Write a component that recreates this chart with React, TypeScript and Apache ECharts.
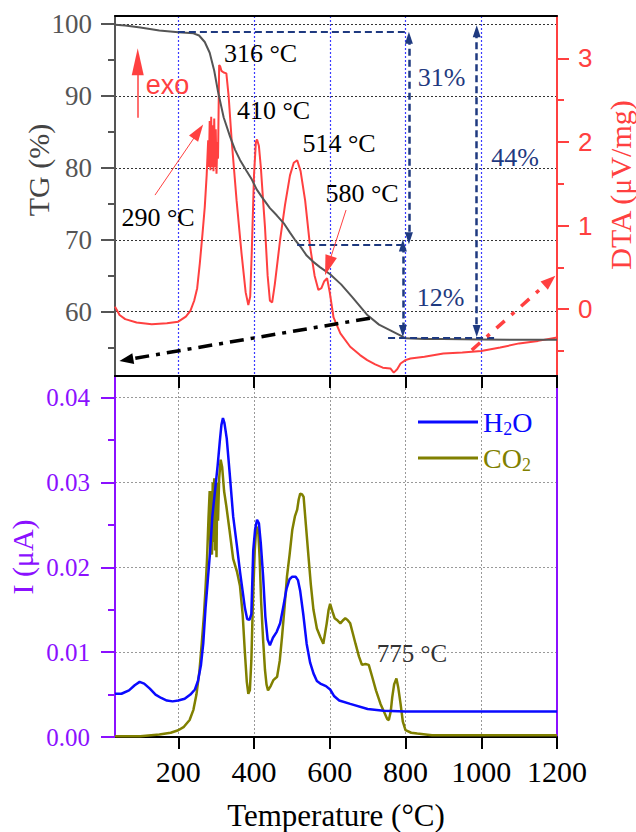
import React, { useEffect, useRef } from "react";
import * as echarts from "echarts";

// ---------- data ----------
const xTickValues = [200, 400, 600, 800, 1000, 1200];
const tgTickValues = [60, 70, 80, 90, 100];
const tgMinorValues = [55, 65, 75, 85, 95];
const dtaTickValues = [0, 1, 2, 3];
const dtaMinorValues = [-0.5, 0.5, 1.5, 2.5];
const iTickValues = [0, 0.01, 0.02, 0.03, 0.04];
const iMinorValues = [0.005, 0.015, 0.025, 0.035];

const tgTemp = [33, 60, 100, 150, 200, 240, 255, 270, 283, 295, 305, 320, 337, 350, 363, 380, 394, 407, 420, 442, 460, 480, 495, 508, 522, 539, 555, 574, 601, 630, 660, 700, 730, 760, 786, 800, 850, 900, 1000, 1100, 1200];
const tgValue = [99.9, 99.8, 99.5, 99.1, 98.85, 98.7, 98.4, 97.5, 96, 93.5, 90.6, 87, 84.3, 82.5, 81.1, 79.6, 78.4, 77, 76, 74.4, 73.4, 72.2, 71, 70, 69.1, 67.8, 67, 66.2, 65.2, 63.8, 62, 59.5, 58.2, 57.4, 56.7, 56.3, 56.2, 56.2, 56.15, 56.1, 56.1];

const dtaTemp = [33, 45, 60, 90, 130, 170, 200, 220, 232, 242, 250, 257, 264, 270, 275, 279, 281, 283, 285, 287, 289, 291, 293, 295, 297, 299, 301, 303, 305, 308, 311, 314, 320, 327, 333, 341, 354, 367, 378, 385, 390, 394, 400, 405, 408, 413, 418, 424, 429, 436, 442, 448, 455, 469, 482, 495, 505, 514, 523, 535, 548, 560, 570, 578, 585, 593, 600, 610, 628, 654, 680, 699, 720, 740, 760, 769, 778, 787, 800, 813, 850, 900, 950, 1000, 1050, 1100, 1150, 1200];
const dtaValue = [0.03, -0.07, -0.12, -0.16, -0.18, -0.17, -0.15, -0.09, -0.02, 0.1, 0.25, 0.55, 0.9, 1.22, 1.6, 2.02, 1.7, 2.25, 1.66, 2.3, 1.7, 2.2, 1.65, 2.28, 1.7, 2.15, 1.62, 2.0, 1.8, 2.92, 2.9, 2.85, 2.83, 2.82, 2.55, 2.02, 1.3, 0.67, 0.2, 0.05, 0.15, 0.67, 1.6, 2.0, 2.03, 1.95, 1.7, 1.3, 0.98, 0.4, 0.1, 0.08, 0.3, 0.83, 1.25, 1.6, 1.75, 1.78, 1.65, 1.3, 0.75, 0.4, 0.23, 0.25, 0.33, 0.37, 0.2, -0.1, -0.29, -0.45, -0.55, -0.61, -0.66, -0.7, -0.71, -0.76, -0.72, -0.65, -0.61, -0.59, -0.57, -0.53, -0.52, -0.5, -0.46, -0.41, -0.38, -0.34];

const h2oTemp = [33, 50, 70, 85, 98, 110, 125, 140, 155, 170, 185, 200, 217, 232, 244, 252, 260, 266, 272, 278, 284, 290, 297, 304, 310, 314, 318, 322, 328, 336, 345, 355, 363, 370, 376, 382, 388, 393, 398, 403, 408, 413, 418, 424, 430, 436, 442, 450, 460, 469, 478, 486, 494, 501, 510, 516, 522, 530, 539, 548, 557, 566, 575, 590, 601, 612, 625, 654, 700, 742, 800, 1000, 1200];
const h2oValue = [0.0051, 0.0051, 0.0055, 0.0061, 0.0065, 0.0063, 0.0057, 0.005, 0.0046, 0.0043, 0.0042, 0.0043, 0.0045, 0.005, 0.0056, 0.0066, 0.0085, 0.011, 0.0152, 0.0185, 0.0218, 0.026, 0.029, 0.032, 0.035, 0.0368, 0.0376, 0.037, 0.0352, 0.031, 0.026, 0.0225, 0.0195, 0.0172, 0.0152, 0.0139, 0.0138, 0.0145, 0.022, 0.0245, 0.0256, 0.0252, 0.0228, 0.019, 0.0142, 0.0115, 0.0108, 0.0117, 0.0124, 0.0134, 0.0155, 0.0175, 0.0186, 0.0189, 0.0189, 0.0185, 0.0172, 0.0145, 0.011, 0.0088, 0.0075, 0.0066, 0.0063, 0.006, 0.0056, 0.0048, 0.0043, 0.0039, 0.0033, 0.0031, 0.003, 0.003, 0.003];

const co2Temp = [33, 100, 150, 180, 200, 215, 230, 240, 248, 256, 262, 268, 272, 276, 280, 283, 285, 287, 289, 291, 293, 295, 297, 299, 301, 303, 305, 308, 312, 316, 321, 327, 335, 345, 355, 363, 370, 376, 381, 385, 389, 393, 397, 402, 406, 411, 415, 419, 424, 429, 433, 437, 444, 451, 461, 468, 474, 481, 487, 494, 501, 508, 514, 518, 522, 527, 531, 537, 544, 550, 557, 566, 575, 583, 592, 597, 601, 607, 613, 619, 628, 636, 641, 647, 654, 661, 668, 677, 685, 694, 703, 712, 722, 734, 745, 752, 756, 761, 765, 770, 776, 781, 787, 793, 800, 815, 831, 870, 1000, 1200];
const co2Value = [0.0001, 0.0001, 0.0003, 0.0005, 0.0008, 0.0012, 0.002, 0.0032, 0.005, 0.0078, 0.011, 0.0145, 0.0175, 0.021, 0.026, 0.029, 0.022, 0.029, 0.0215, 0.03, 0.023, 0.0305, 0.022, 0.0295, 0.0212, 0.03, 0.0255, 0.0305, 0.0327, 0.0318, 0.029, 0.0272, 0.0245, 0.021, 0.0195, 0.0178, 0.0145, 0.0099, 0.0065, 0.0051, 0.0055, 0.009, 0.0158, 0.022, 0.0248, 0.0244, 0.021, 0.0158, 0.0115, 0.0079, 0.0062, 0.0055, 0.006, 0.0067, 0.0071, 0.009, 0.0118, 0.0155, 0.0189, 0.0215, 0.0244, 0.026, 0.0268, 0.028, 0.0287, 0.0286, 0.0283, 0.025, 0.0212, 0.018, 0.015, 0.0128, 0.0118, 0.011, 0.0134, 0.015, 0.0157, 0.0148, 0.014, 0.0138, 0.0134, 0.0138, 0.014, 0.0138, 0.0134, 0.0122, 0.011, 0.0095, 0.0085, 0.0086, 0.0085, 0.0071, 0.0055, 0.0039, 0.0028, 0.0021, 0.002, 0.003, 0.0047, 0.0062, 0.0069, 0.0058, 0.0039, 0.0018, 0.0008, 0.0005, 0.0004, 0.0002, 0.0002, 0.0002];

// annotation anchors (data coordinates)
const tgLevels = { start: 98.93, mid: 69.36, end: 56.37 };

// ---------- styles ----------
const SERIF = "Liberation Serif";
const SANS = "Liberation Sans";
const RED = "#ff4040";
const NAVY = "#1f3a80";
const PURPLE = "#8b10ff";
const GRAY = "#555555";
const BLUE = "#0a0aff";
const OLIVE = "#808000";

const pairs = (xs: number[], ys: number[]) => xs.map((x, i) => [x, ys[i]]);

const seg = (a: number[], b: number[], style: any, s1?: any, s2?: any) => [
  { coord: a, lineStyle: style, symbol: s1 ? s1.symbol : "none", symbolSize: s1 ? s1.size : 0 },
  { coord: b, symbol: s2 ? s2.symbol : "none", symbolSize: s2 ? s2.size : 0 },
];

const navyDash = { color: NAVY, width: 2, type: [7, 4] };
const navyHead = { symbol: "triangle", size: [8, 12] };

const txt = (text: string, x: number, y: number, size: number, fill: string, family = SERIF, rotation = 0) => ({
  type: "text",
  x,
  y,
  rotation,
  silent: true,
  z: 100,
  style: { text, font: `${size}px "${family}"`, fill, align: "center", verticalAlign: "middle" },
});

function buildOption() {
  const hiddenAxisParts = {
    axisLine: { show: false },
    axisLabel: { show: false },
    splitLine: { show: false },
  };
  return {
    animation: false,
    backgroundColor: "#ffffff",
    grid: [
      { left: 115, top: 16, width: 442, height: 360 },
      { left: 115, top: 376, width: 442, height: 361 },
    ],
    xAxis: [
      {
        gridIndex: 0, type: "value", min: 33, max: 1200, position: "bottom",
        axisLine: { show: true, onZero: false, lineStyle: { color: "#000", width: 2 } },
        axisTick: { show: false, customValues: xTickValues.slice(0, 5) },
        axisLabel: { show: false, customValues: xTickValues.slice(0, 5) },
        splitLine: { show: true, lineStyle: { color: "#3a3aff", type: [2, 2], width: 1.2 } },
      },
      {
        gridIndex: 0, type: "value", min: 33, max: 1200, position: "top",
        axisLine: { show: true, onZero: false, lineStyle: { color: "#000", width: 2 } },
        axisTick: { show: false }, axisLabel: { show: false }, splitLine: { show: false },
      },
      {
        gridIndex: 1, type: "value", min: 33, max: 1200, position: "bottom",
        axisLine: { show: true, onZero: false, lineStyle: { color: "#000", width: 2 } },
        axisTick: { show: true, inside: false, length: 12, customValues: xTickValues, lineStyle: { color: "#000", width: 2 } },
        axisLabel: {
          show: true, customValues: xTickValues, margin: 19, color: "#000", fontFamily: SERIF, fontSize: 30,
          formatter: (v: number) => String(v),
        },
        splitLine: { show: true, lineStyle: { color: "#999", type: [2, 2], width: 1 } },
      },
      {
        gridIndex: 1, type: "value", min: 33, max: 1200, position: "top",
        axisLine: { show: true, onZero: false, lineStyle: { color: "#000", width: 2 } },
        axisTick: { show: true, inside: true, length: 12, customValues: xTickValues, lineStyle: { color: "#000", width: 2 } },
        axisLabel: { show: false }, splitLine: { show: false },
      },
    ],
    yAxis: [
      {
        gridIndex: 0, type: "value", min: 51.06, max: 101.11, position: "left",
        axisLine: { show: true, onZero: false, lineStyle: { color: GRAY, width: 2 } },
        axisTick: { show: true, length: 14, customValues: tgTickValues, lineStyle: { color: GRAY, width: 2 } },
        axisLabel: { show: true, customValues: tgTickValues, margin: 23, color: GRAY, fontFamily: SERIF, fontSize: 27 },
        splitLine: { show: true, lineStyle: { color: "#333", type: [2, 2], width: 1 } },
      },
      {
        gridIndex: 0, type: "value", min: 51.06, max: 101.11, position: "left", ...hiddenAxisParts,
        axisTick: { show: true, length: 7, customValues: tgMinorValues, lineStyle: { color: GRAY, width: 2 } },
      },
      {
        gridIndex: 0, type: "value", min: -0.8, max: 3.506, position: "right",
        axisLine: { show: true, onZero: false, lineStyle: { color: RED, width: 2 } },
        axisTick: { show: true, length: 12, customValues: dtaTickValues, lineStyle: { color: RED, width: 2 } },
        axisLabel: { show: true, customValues: dtaTickValues, margin: 21, color: RED, fontFamily: SANS, fontSize: 26 },
        splitLine: { show: false },
      },
      {
        gridIndex: 0, type: "value", min: -0.8, max: 3.506, position: "right", ...hiddenAxisParts,
        axisTick: { show: true, length: 7, customValues: dtaMinorValues, lineStyle: { color: RED, width: 2 } },
      },
      {
        gridIndex: 1, type: "value", min: 0, max: 0.04256, position: "left",
        axisLine: { show: true, onZero: false, lineStyle: { color: PURPLE, width: 2 } },
        axisTick: { show: true, length: 14, customValues: iTickValues, lineStyle: { color: PURPLE, width: 2 } },
        axisLabel: {
          show: true, customValues: iTickValues, margin: 25, color: PURPLE, fontFamily: SERIF, fontSize: 25,
          formatter: (v: number) => v.toFixed(2),
        },
        splitLine: { show: true, lineStyle: { color: "#999", type: [2, 2], width: 1 } },
      },
      {
        gridIndex: 1, type: "value", min: 0, max: 0.04256, position: "left", ...hiddenAxisParts,
        axisTick: { show: true, length: 7, customValues: iMinorValues, lineStyle: { color: PURPLE, width: 2 } },
      },
      {
        gridIndex: 1, type: "value", min: 0, max: 0.04256, position: "right",
        axisLine: { show: true, onZero: false, lineStyle: { color: PURPLE, width: 2 } },
        axisTick: { show: false }, axisLabel: { show: false }, splitLine: { show: false },
      },
    ],
    legend: {
      show: true,
      orient: "vertical",
      left: 413,
      top: 403,
      icon: "rect",
      itemWidth: 60,
      itemHeight: 3,
      itemGap: 6,
      selectedMode: false,
      data: [{ name: "H2O" }, { name: "CO2" }],
      formatter: (name: string) => (name === "H2O" ? "{h|H}{hs|2}{h|O}" : "{c|CO}{cs|2}"),
      textStyle: {
        fontFamily: SERIF,
        fontSize: 28,
        rich: {
          h: { color: BLUE, fontFamily: SERIF, fontSize: 28, lineHeight: 32, verticalAlign: "middle" },
          hs: { color: BLUE, fontFamily: SERIF, fontSize: 18, lineHeight: 32, verticalAlign: "bottom" },
          c: { color: OLIVE, fontFamily: SERIF, fontSize: 28, lineHeight: 32, verticalAlign: "middle" },
          cs: { color: OLIVE, fontFamily: SERIF, fontSize: 18, lineHeight: 32, verticalAlign: "bottom" },
        },
      },
    },
    series: [
      {
        name: "TG", type: "line", xAxisIndex: 0, yAxisIndex: 0, symbol: "none", smooth: false,
        data: pairs(tgTemp, tgValue),
        lineStyle: { color: GRAY, width: 2 }, itemStyle: { color: GRAY }, z: 3,
        markLine: {
          silent: true, label: { show: false }, emphasis: { disabled: true },
          data: [
            seg([199, tgLevels.start], [807, tgLevels.start], navyDash),
            seg([514, tgLevels.mid], [803, tgLevels.mid], navyDash),
            seg([754, tgLevels.end], [1042, tgLevels.end], navyDash),
            seg([809, 98.1], [809, 70.2], { ...navyDash, width: 2.5 }, navyHead, navyHead),
            seg([793, 69.2], [793, 57.3], { ...navyDash, width: 2.5 }, navyHead, navyHead),
            seg([988, 99.0], [988, 57.3], { ...navyDash, width: 2.5 }, navyHead, navyHead),
            seg([706, 59.1], [63, 53.32], { color: "#000", width: 3.5, type: [14, 7, 4, 7] }, null, { symbol: "triangle", size: [11, 14] }),
          ],
        },
      },
      {
        name: "DTA", type: "line", xAxisIndex: 0, yAxisIndex: 2, symbol: "none",
        data: pairs(dtaTemp, dtaValue),
        lineStyle: { color: RED, width: 2 }, itemStyle: { color: RED }, z: 2,
        markLine: {
          silent: true, label: { show: false }, emphasis: { disabled: true },
          data: [
            seg([93, 2.29], [93, 2.96], { color: RED, width: 1.5, type: "solid" }, null, { symbol: "triangle", size: [12, 27] }),
            seg([138.6, 1.364], [253.1, 2.123], { color: RED, width: 1, type: "solid" }, null, { symbol: "triangle", size: [11, 17] }),
            seg([643, 1.185], [595.7, 0.52], { color: RED, width: 1, type: "solid" }, null, { symbol: "triangle", size: [12, 20] }),
            seg([975, -0.49], [1181, 0.34], { color: RED, width: 3.5, type: [11, 9, 4, 9] }, null, { symbol: "triangle", size: [11, 15] }),
          ],
        },
      },
      {
        name: "H2O", type: "line", xAxisIndex: 2, yAxisIndex: 4, symbol: "none",
        data: pairs(h2oTemp, h2oValue),
        lineStyle: { color: BLUE, width: 2.5 }, itemStyle: { color: BLUE }, z: 3,
      },
      {
        name: "CO2", type: "line", xAxisIndex: 2, yAxisIndex: 4, symbol: "none",
        data: pairs(co2Temp, co2Value),
        lineStyle: { color: OLIVE, width: 2.5 }, itemStyle: { color: OLIVE }, z: 2,
      },
    ],
    graphic: [
      txt("TG (%)", 38, 170, 30, "#444", SERIF, Math.PI / 2),
      txt("DTA (μV/mg)", 620, 185, 30, RED, SERIF, Math.PI / 2),
      txt("I (μA)", 22, 557, 30, PURPLE, SERIF, Math.PI / 2),
      txt("Temperature (°C)", 336, 815, 31, "#000", SERIF),
      txt("exo", 167.5, 85, 27, RED, SANS),
      txt("316 °C", 260.5, 53, 26, "#000"),
      txt("410 °C", 273.5, 110, 26, "#000"),
      txt("514 °C", 339, 143, 26, "#000"),
      txt("580 °C", 362, 193, 26, "#000"),
      txt("290 °C", 158, 217, 26, "#000"),
      txt("31%", 441.7, 77, 26, NAVY),
      txt("44%", 515, 157, 26, NAVY),
      txt("12%", 440.5, 297, 26, NAVY),
      txt("775 °C", 412, 653, 25, "#333"),
    ],
  };
}

export default function App() {
  const ref = useRef<HTMLDivElement>(null);
  useEffect(() => {
    if (!ref.current) return;
    const chart = echarts.init(ref.current, null, { renderer: "svg" });
    chart.setOption(buildOption() as any);
    return () => chart.dispose();
  }, []);
  return (
    <div
      ref={ref}
      style={{ position: "fixed", left: 0, top: 0, width: 636, height: 832, background: "#fff" }}
    />
  );
}
